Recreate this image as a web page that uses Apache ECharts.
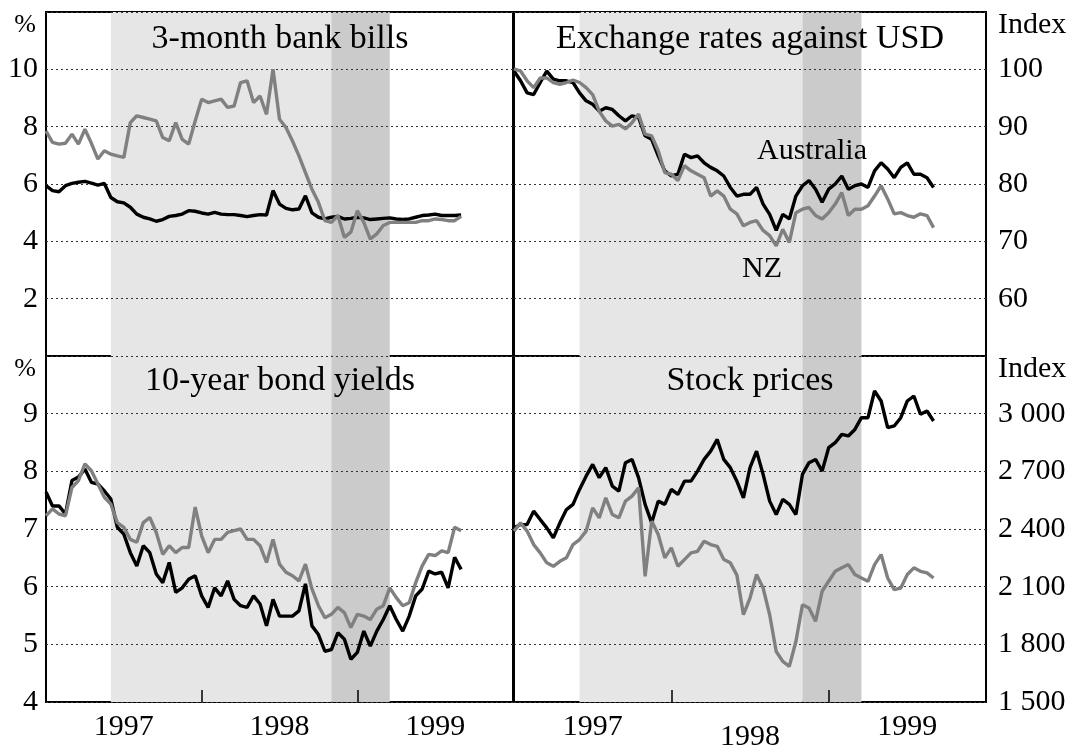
<!DOCTYPE html>
<html>
<head>
<meta charset="utf-8">
<script src="https://cdn.jsdelivr.net/npm/echarts@6/dist/echarts.min.js"></script>
<style>
  html, body { margin: 0; padding: 0; background: #fff; }
  #chart { width: 1072px; height: 749px; }
</style>
</head>
<body>
<div id="chart"></div>
<script>
// half-month periods, Jan 1997 .. Jan 2000
const periods = [];
for (const y of [1997, 1998, 1999]) {
  for (let m = 1; m <= 12; m++) {
    const mm = String(m).padStart(2, '0');
    periods.push(y + '-' + mm + '-01', y + '-' + mm + '-16');
  }
}
periods.push('2000-01-01');

const yearLabels = ['1997', '1998', '1999'];

// 3-month bank bills, %
const billsAus = [5.94,5.77,5.73,5.94,6.02,6.06,6.09,6.03,5.96,6.02,
  5.53,5.38,5.34,5.19,4.95,4.84,4.78,4.70,4.76,4.87,
  4.90,4.95,5.07,5.05,4.99,4.95,5.01,4.95,4.93,4.93,
  4.90,4.86,4.90,4.93,4.92,5.77,5.30,5.15,5.10,5.13,
  5.59,4.99,4.84,4.78,4.84,4.87,4.78,4.80,4.84,4.82,
  4.76,4.78,4.80,4.82,4.78,4.76,4.78,4.84,4.90,4.92,
  4.95,4.90,4.90,4.90,4.92];
const billsNz = [7.85,7.45,7.39,7.42,7.74,7.39,7.91,7.42,6.87,7.16,
  7.04,6.98,6.93,8.14,8.38,8.32,8.26,8.20,7.62,7.51,
  8.14,7.56,7.39,8.20,8.96,8.84,8.90,8.96,8.67,8.72,
  9.54,9.60,8.84,9.07,8.43,10.0,8.26,7.97,7.50,6.98,
  6.40,5.82,5.36,4.72,4.66,4.90,4.14,4.32,5.07,4.66,
  4.08,4.26,4.55,4.66,4.66,4.66,4.66,4.66,4.72,4.72,
  4.78,4.76,4.72,4.72,4.87];

// exchange rates against USD, index
const fxAus = [99.7,98.0,95.9,95.6,97.7,99.7,98.3,98.0,98.0,97.7,
  95.9,94.5,93.9,92.7,93.3,93.0,91.9,91.0,91.9,91.6,
  88.4,87.8,84.9,82.3,81.4,81.7,85.2,84.6,84.9,83.7,
  82.9,82.3,81.4,79.4,77.9,78.2,78.2,79.4,76.5,74.7,
  71.9,74.7,73.9,77.9,79.7,80.6,79.1,76.8,79.1,80.0,
  81.4,79.1,79.7,80.0,79.4,82.3,83.7,82.6,81.1,82.9,
  83.7,81.7,81.7,81.1,79.4];
const fxNz = [100.1,99.7,98.0,96.8,98.5,98.5,97.7,97.4,97.7,98.1,
  97.7,96.8,95.6,92.7,91.0,90.1,90.4,89.6,90.7,92.2,
  88.7,88.4,85.8,82.0,81.7,80.6,83.2,82.3,81.7,81.1,
  77.9,78.8,77.9,75.6,74.8,72.7,73.3,73.6,71.9,71.0,
  69.2,72.1,69.8,75.0,75.6,75.9,74.5,73.9,75.0,76.5,
  78.5,74.5,75.6,75.6,76.2,77.9,79.7,77.4,74.8,75.0,
  74.5,74.2,74.8,74.5,72.4];

// 10-year bond yields, %
const bondsAus = [7.64,7.40,7.40,7.26,7.84,7.90,8.04,7.81,7.78,7.66,
  7.52,7.03,6.91,6.59,6.36,6.71,6.59,6.22,6.07,6.42,
  5.90,5.98,6.13,6.19,5.84,5.64,5.98,5.84,6.10,5.78,
  5.67,5.64,5.84,5.70,5.32,5.78,5.49,5.49,5.49,5.58,
  6.05,5.32,5.17,4.88,4.91,5.20,5.09,4.74,4.86,5.23,
  4.97,5.23,5.43,5.67,5.43,5.23,5.49,5.84,5.96,6.27,
  6.22,6.25,5.98,6.51,6.30];
const bondsNz = [7.23,7.35,7.26,7.23,7.72,7.84,8.13,8.01,7.78,7.55,
  7.43,7.11,7.03,6.82,6.77,7.11,7.20,6.94,6.56,6.71,
  6.59,6.68,6.68,7.38,6.88,6.59,6.82,6.82,6.94,6.97,
  7.00,6.82,6.82,6.71,6.42,6.82,6.39,6.25,6.19,6.10,
  6.39,5.96,5.67,5.46,5.52,5.64,5.55,5.29,5.52,5.49,
  5.43,5.61,5.67,5.98,5.81,5.67,5.72,6.07,6.36,6.56,
  6.54,6.62,6.59,7.03,6.97];

// stock prices, index
const stocksAus = [2406,2423,2423,2493,2449,2406,2354,2432,2501,2528,
  2606,2675,2736,2667,2719,2623,2597,2745,2762,2667,
  2528,2432,2545,2528,2606,2580,2649,2649,2701,2762,
  2805,2866,2762,2719,2649,2562,2719,2805,2684,2545,
  2475,2554,2528,2475,2684,2745,2762,2701,2823,2849,
  2892,2884,2918,2979,2979,3118,3066,2927,2936,2979,
  3066,3092,2997,3014,2962];
const stocksNz = [2389,2432,2389,2319,2276,2224,2206,2232,2250,2319,
  2345,2389,2510,2458,2562,2475,2458,2545,2571,2614,
  2154,2441,2371,2250,2302,2206,2241,2276,2284,2336,
  2319,2310,2241,2224,2160,1954,2041,2163,2093,1954,
  1763,1711,1685,1815,2006,1989,1920,2076,2128,2180,
  2198,2215,2163,2145,2128,2215,2267,2145,2085,2093,
  2163,2198,2180,2172,2145];

// shaded periods (start / end category)
const lightShade = ['1997-06-01', '1998-11-01'];
const darkShade = ['1998-11-01', '1999-03-16'];

const FONT = '"Liberation Serif", "Times New Roman", serif';
const GREY = '#808080';

const chart = echarts.init(document.getElementById('chart'));

const grids = [
  { left: 46, top: 12, width: 467, height: 344 },
  { left: 514, top: 12, width: 472, height: 344 },
  { left: 46, top: 356, width: 467, height: 346 },
  { left: 514, top: 356, width: 472, height: 346 }
].map(g => Object.assign(g, {
  show: true, borderColor: '#000', borderWidth: 2, backgroundColor: 'transparent',
  containLabel: false, outerBoundsMode: 'none'
}));

function xAxisFor(i) {
  const bottom = i >= 2;
  return {
    type: 'category', gridIndex: i, data: periods, boundaryGap: false, z: 2,
    axisLine: { show: false },
    axisTick: {
      show: bottom, inside: true, length: 12,
      interval: idx => idx === 24 || idx === 48,
      lineStyle: { color: '#000', width: 1.5 }
    },
    axisLabel: {
      show: bottom, margin: 10, fontFamily: FONT, fontSize: 30, color: '#000',
      interval: idx => idx % 24 === 12,
      formatter: v => {
        const y = v.slice(0, 4);
        return (i === 3 && y === yearLabels[1]) ? '{low|' + y + '}' : y;
      },
      rich: { low: { fontFamily: FONT, fontSize: 30, color: '#000', padding: [10, 0, 0, 0] } }
    },
    splitLine: { show: false }
  };
}

function yAxisFor(i, min, max, interval, hide) {
  const right = i % 2 === 1;
  return {
    type: 'value', gridIndex: i, min, max, interval, z: 2,
    position: right ? 'right' : 'left',
    axisLine: { show: false }, axisTick: { show: false },
    axisLabel: {
      margin: right ? 12 : 8, fontFamily: FONT, fontSize: 30, color: '#000',
      formatter: v => hide.includes(v) ? '' : String(v).replace(/\B(?=(\d{3})+(?!\d))/g, ' ')
    },
    splitLine: { show: true, lineStyle: { type: [2, 3], color: '#333', width: 1 } }
  };
}

function shade(i, data) {
  return {
    type: 'line', xAxisIndex: i, yAxisIndex: i, data, silent: true, z: 1,
    symbol: 'none', lineStyle: { opacity: 0 },
    markArea: {
      silent: true,
      data: [
        [{ xAxis: lightShade[0], itemStyle: { color: '#e6e6e6' } }, { xAxis: lightShade[1] }],
        [{ xAxis: darkShade[0], itemStyle: { color: '#cbcbcb' } }, { xAxis: darkShade[1] }]
      ]
    }
  };
}

function line(i, data, color) {
  return {
    type: 'line', xAxisIndex: i, yAxisIndex: i, data, z: 3,
    symbol: 'none', lineStyle: { color, width: 3.4 }
  };
}

function label(text, x, y, size, align) {
  return {
    type: 'text', x, y, z: 100, silent: true,
    style: { text, font: size + 'px ' + FONT, fill: '#000', textAlign: align || 'center', textVerticalAlign: 'middle' }
  };
}

chart.setOption({
  animation: false,
  grid: grids,
  xAxis: [0, 1, 2, 3].map(xAxisFor),
  yAxis: [
    yAxisFor(0, 0, 12, 2, [0, 12]),
    yAxisFor(1, 50, 110, 10, [50, 110]),
    yAxisFor(2, 4, 10, 1, [10]),
    yAxisFor(3, 1500, 3300, 300, [3300])
  ],
  series: [
    shade(0, billsAus), line(0, billsAus, '#000'), line(0, billsNz, GREY),
    shade(1, fxAus), line(1, fxAus, '#000'), line(1, fxNz, GREY),
    shade(2, bondsAus), line(2, bondsAus, '#000'), line(2, bondsNz, GREY),
    shade(3, stocksAus), line(3, stocksAus, '#000'), line(3, stocksNz, GREY)
  ],
  graphic: [
    label('3-month bank bills', 280, 39, 34),
    label('Exchange rates against USD', 750, 39, 34),
    label('10-year bond yields', 280, 381, 34),
    label('Stock prices', 750, 381, 34),
    label('Australia', 812, 151, 30),
    label('NZ', 762, 269, 30),
    label('%', 25, 25, 26),
    label('%', 25, 369, 26),
    label('Index', 998, 25, 30, 'left'),
    label('Index', 998, 369, 30, 'left')
  ]
});
</script>
</body>
</html>
